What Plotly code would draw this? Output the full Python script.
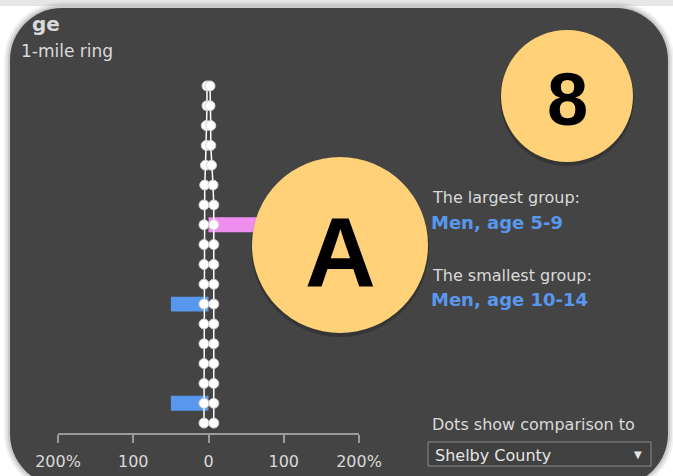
import plotly.graph_objects as go

W, H = 673, 476

# age groups, youngest first (bottom of the pyramid)
age_groups = ['0-4', '5-9', '10-14', '15-19', '20-24', '25-29', '30-34', '35-39', '40-44',
              '45-49', '50-54', '55-59', '60-64', '65-69', '70-74', '75-79', '80-84', '85+']
men_pct = [0, -50, 0, 0, 0, 0, -50, 0, 0, 0, 0, 0, 0, 0, 0, 0, 0, 0]
women_pct = [0, 0, 0, 0, 0, 0, 0, 0, 0, 0, 70, 0, 0, 0, 0, 0, 0, 0]
men_dots = [-6, -6, -6, -6, -6, -6, -6, -6, -6, -6, -6, -6, -5, -4, -3, -3, -2, -2]
women_dots = [7, 7, 7, 7, 7, 7, 7, 7, 7, 7, 7, 7, 6, 4, 3, 3, 2, 2]
tick_vals = [-200, -100, 0, 100, 200]
tick_text = ['200%', '100', '0', '100', '200%']

CARD = '#444444'
BLUE = '#5897ee'
PINK = '#f08ef0'
LIGHT = '#dadada'
BADGE = '#ffd27a'
FONT = 'DejaVu Sans'


def fx(px):
    return px / W


def fy(py):
    return 1 - py / H


def rounded_rect(x0, y0, x1, y1, r):
    # path in paper coords from pixel box
    k = 0.45
    pts = [
        f'M {fx(x0 + r)},{fy(y0)}',
        f'L {fx(x1 - r)},{fy(y0)}',
        f'C {fx(x1 - r * k)},{fy(y0)} {fx(x1)},{fy(y0 + r * k)} {fx(x1)},{fy(y0 + r)}',
        f'L {fx(x1)},{fy(y1 - r)}',
        f'C {fx(x1)},{fy(y1 - r * k)} {fx(x1 - r * k)},{fy(y1)} {fx(x1 - r)},{fy(y1)}',
        f'L {fx(x0 + r)},{fy(y1)}',
        f'C {fx(x0 + r * k)},{fy(y1)} {fx(x0)},{fy(y1 - r * k)} {fx(x0)},{fy(y1 - r)}',
        f'L {fx(x0)},{fy(y0 + r)}',
        f'C {fx(x0)},{fy(y0 + r * k)} {fx(x0 + r * k)},{fy(y0)} {fx(x0 + r)},{fy(y0)}',
        'Z',
    ]
    return ' '.join(pts)


def circle(cx, cy, r, color, layer='above'):
    return dict(type='circle', xref='paper', yref='paper',
                x0=fx(cx - r), x1=fx(cx + r), y0=fy(cy + r), y1=fy(cy - r),
                fillcolor=color, line=dict(width=0), layer=layer)


fig = go.Figure()

fig.add_trace(go.Bar(y=age_groups, x=men_pct, orientation='h', width=0.75,
                     marker=dict(color=BLUE, line=dict(width=0)), name='Men'))
fig.add_trace(go.Bar(y=age_groups, x=women_pct, orientation='h', width=0.75,
                     marker=dict(color=PINK, line=dict(width=0)), name='Women'))

for vals in (men_dots, women_dots):
    fig.add_trace(go.Scatter(
        x=vals, y=age_groups, mode='lines+markers',
        line=dict(color='white', width=1.5),
        marker=dict(size=10, color='white', line=dict(color='#cfcfcf', width=1)),
        showlegend=False))

shapes = []
# strip at the very top
shapes.append(dict(type='rect', xref='paper', yref='paper', x0=0, x1=1, y0=fy(6), y1=1,
                   fillcolor='#e6e6e6', line=dict(width=0), layer='below'))
# card glow / shadow
for grow, alpha in ((6, 0.05), (4, 0.07), (2, 0.1)):
    shapes.append(dict(type='path', xref='paper', yref='paper',
                       path=rounded_rect(10 - grow, 8 - grow, 668 + grow, 486 + grow, 52 + grow),
                       fillcolor=f'rgba(0,0,0,{alpha})', line=dict(width=0), layer='below'))
shapes.append(dict(type='path', xref='paper', yref='paper',
                   path=rounded_rect(10, 8, 668, 486, 52),
                   fillcolor=CARD, line=dict(width=0), layer='below'))
# dropdown box
shapes.append(dict(type='rect', xref='paper', yref='paper',
                   x0=fx(428), x1=fx(651), y0=fy(466), y1=fy(442),
                   fillcolor='#404040', line=dict(color='#8a8a8a', width=1), layer='below'))
# badges with a soft shadow
shapes.append(circle(567, 99, 67, 'rgba(0,0,0,0.22)'))
shapes.append(circle(567, 96, 66, BADGE))
shapes.append(circle(340, 248, 89, 'rgba(0,0,0,0.22)'))
shapes.append(circle(340, 245, 88, BADGE))


def label(text, x, y, size, color=LIGHT, family=FONT, anchor='left'):
    return dict(text=text, xref='paper', yref='paper', x=fx(x), y=fy(y),
                xanchor=anchor, yanchor='middle', showarrow=False,
                font=dict(family=family, size=size, color=color))


annotations = [
    label('<b>ge</b>', 30, 24, 20),
    label('1-mile ring', 19, 51, 17),
    label('The largest group:', 430, 197, 16),
    label('<b>Men, age 5-9</b>', 429, 222, 18, color=BLUE),
    label('The smallest group:', 430, 275, 16),
    label('<b>Men, age 10-14</b>', 429, 299, 18, color=BLUE),
    label('Dots show comparison to', 430, 424, 16),
    label('Shelby County', 433, 455, 16, color='#e4e4e4'),
    label('▼', 638, 454, 10, color='#e4e4e4', anchor='center'),
    label('<b>8</b>', 567, 99, 74, color='black', family='Liberation Sans', anchor='center'),
    label('<b>A</b>', 340, 252, 98, color='black', family='Liberation Sans', anchor='center'),
]

fig.update_layout(
    width=W, height=H, autosize=False,
    margin=dict(l=0, r=0, t=0, b=0, autoexpand=False),
    paper_bgcolor='white', plot_bgcolor='rgba(0,0,0,0)',
    barmode='overlay', showlegend=False,
    shapes=shapes, annotations=annotations,
    xaxis=dict(domain=[fx(58), fx(359)], range=[-200, 200],
               tickvals=tick_vals, ticktext=tick_text,
               showline=True, linecolor='#9a9a9a', linewidth=2,
               ticks='outside', ticklen=8, tickwidth=2, tickcolor='#9a9a9a',
               ticklabelstandoff=5,
               tickfont=dict(family=FONT, size=16, color=LIGHT),
               showgrid=False, zeroline=False, fixedrange=True, automargin=False),
    yaxis=dict(domain=[fy(433), fy(76)], range=[-0.5, 17.5],
               type='category', categoryorder='array', categoryarray=age_groups,
               showticklabels=False, showgrid=False, zeroline=False, fixedrange=True,
               automargin=False),
)

# page margin off so the figure sits flush in the window
fig.write_html('out.html', config={'displayModeBar': False},
               post_script="document.body.style.margin='0';document.body.style.overflow='hidden';")
